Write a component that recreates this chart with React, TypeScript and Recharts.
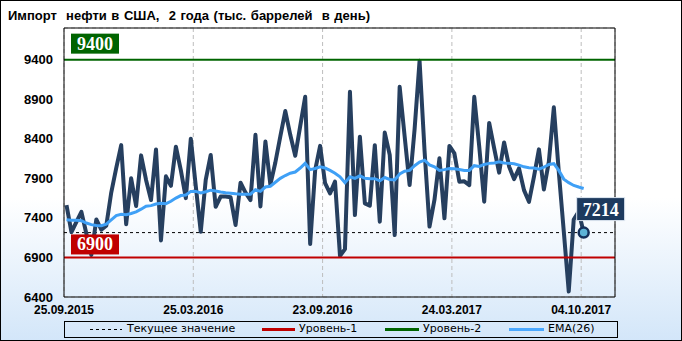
import React from 'react';
import { LineChart, Line, XAxis, YAxis, CartesianGrid, ReferenceLine, ReferenceDot } from 'recharts';

// weekly imports, thousand barrels per day
const importValues = [
  7560, 7220, 7350, 7476, 7200, 6930, 7380, 7250, 7300, 7720,
  8030, 8320, 7320, 7900, 7550, 8190, 7880, 7625, 8265, 7115,
  7925, 7805, 8300, 8000, 7650, 8400, 7800, 7225, 7880, 8195,
  7540, 7670, 7670, 7660, 7310, 7845, 7720, 7625, 8450, 7545,
  8365, 7820, 8100, 8430, 8750, 8450, 8185, 8560, 8930, 7070,
  8000, 8310, 7838, 7710, 7858, 6920, 7005, 8995, 7435, 8427,
  7584, 7555, 8318, 7352, 8478, 8196, 7183, 9056, 8430, 7815,
  8520, 9385, 8250, 7290, 7630, 8153, 7394, 8310, 8215, 7858,
  7862, 7815, 8930, 8300, 7605, 8600, 8280, 7972, 8354, 8050,
  7890, 8025, 7751, 7603, 7919, 8266, 7760, 8110, 8797, 7980,
  7230, 6470, 7380, 7480, 7214,
];

const emaValues = [
  7375, 7370, 7370, 7365, 7335, 7315, 7305, 7300, 7320, 7375,
  7430, 7445, 7440, 7455, 7476, 7510, 7548, 7555, 7575, 7585,
  7580, 7610, 7650, 7682, 7690, 7735, 7735, 7715, 7730, 7750,
  7740, 7728, 7718, 7712, 7705, 7700, 7698, 7700, 7755, 7735,
  7790, 7800, 7850, 7900, 7935, 7965, 7980, 8030, 8090, 8010,
  8025, 8046, 8030, 8000, 7965, 7920, 7845, 7920, 7900, 7932,
  7900, 7895, 7895, 7868, 7910, 7885, 7880, 7955, 7990, 8000,
  8060, 8105, 8130, 8070, 8045, 8000, 8010, 8025, 8020, 8012,
  8000, 8000, 8060, 8050, 8075, 8089, 8095, 8108, 8095, 8089,
  8085, 8067, 8045, 8035, 8030, 8015, 8040, 8075, 8085, 8000,
  7890, 7845, 7810, 7790, 7772,
];

const dateTicks = [-0.5, 25.5, 51.5, 77.5, 103.5];
const dateLabels = ['25.09.2015', '25.03.2016', '23.09.2016', '24.03.2017', '04.10.2017'];
const valueTicks = [6400, 6900, 7400, 7900, 8400, 8900, 9400];

const level1 = 6900;
const level2 = 9400;
const currentValue = 7214;

const data = importValues.map((v, i) => ({ i, value: v, ema: emaValues[i] }));
const lastIndex = importValues.length - 1;

const tickFont = { fontFamily: 'Liberation Sans, Arial, sans-serif', fontWeight: 'bold', fontSize: 13, fill: '#000' };

const levelLabel = (text: string, color: string, dy: number) => (props: any) => {
  const { x, y } = props.viewBox;
  return (
    <g>
      <rect x={x + 7} y={y + dy} width={48} height={20} fill={color} />
      <text x={x + 31} y={y + dy + 16} textAnchor="middle" fill="#fff"
        style={{ fontFamily: 'Liberation Serif, serif', fontWeight: 'bold', fontSize: 18 }}>{text}</text>
    </g>
  );
};

const LastPoint = (props: any) => {
  const { cx, cy } = props;
  return (
    <g>
      <rect x={cx - 7} y={cy - 35} width={48} height={23} fill="#1d3a5e" stroke="#dfe8f2" strokeWidth={1} />
      <text x={cx + 17} y={cy - 17} textAnchor="middle" fill="#fff"
        style={{ fontFamily: 'Liberation Serif, serif', fontWeight: 'bold', fontSize: 18 }}>{currentValue}</text>
      <circle cx={cx} cy={cy} r={5} fill="#5db3d6" stroke="#14305a" strokeWidth={2.5} />
    </g>
  );
};

const legendText = { position: 'absolute' as const, top: 322, fontFamily: 'DejaVu Sans, sans-serif', fontSize: 11, color: '#000' };

const App: React.FC = () => {
  return (
    <div style={{ position: 'absolute', left: 0, top: 0, width: 682, height: 341,
      background: 'linear-gradient(to bottom, #ffffff 0%, #ffffff 58%, #d3e6f9 100%)', overflow: 'hidden' }}>
      <div style={{ position: 'absolute', left: 8, top: 8, fontFamily: 'Liberation Sans, Arial, sans-serif',
        fontWeight: 'bold', fontSize: 13, wordSpacing: 1, whiteSpace: 'pre' }}>
        Импорт  нефти в США,  2 года (тыс. баррелей  в день)
      </div>

      <div style={{ position: 'absolute', left: 0, top: 0 }}>
        <LineChart width={682} height={341} data={data} margin={{ top: 28, right: 0, bottom: 14, left: 0 }}>
          <CartesianGrid stroke="#bdbdbd" strokeDasharray="4 3" />
          <XAxis dataKey="i" type="number" domain={[-0.5, 110.3]} ticks={dateTicks} allowDataOverflow
            tickFormatter={(v: number) => dateLabels[dateTicks.indexOf(v)] ?? ''}
            height={30} tickLine={false} tickMargin={2} axisLine={{ stroke: '#000' }}
            tick={{ ...tickFont, fontSize: 12 }} interval={0} />
          <YAxis yAxisId="left" domain={[6400, 9800]} ticks={valueTicks} width={64} tickLine={false}
            tickMargin={5} axisLine={{ stroke: '#000' }} tick={tickFont} interval={0} />
          <YAxis yAxisId="right" orientation="right" domain={[6400, 9800]} ticks={valueTicks} width={67}
            tickLine={false} tickMargin={7} axisLine={{ stroke: '#000' }} tick={tickFont} interval={0} />
          <ReferenceLine yAxisId="left" y={9800} stroke="#000" strokeWidth={1} />
          <ReferenceLine yAxisId="left" y={currentValue} stroke="#000" strokeDasharray="3 3" strokeWidth={1} />
          <Line yAxisId="left" type="linear" dataKey="value" stroke="#263f5f" strokeWidth={4}
            dot={false} isAnimationActive={false} strokeLinejoin="round" />
          <Line yAxisId="left" type="linear" dataKey="ema" stroke="#3fa0f6" strokeWidth={3}
            dot={false} isAnimationActive={false} />
          <ReferenceLine yAxisId="left" y={level2} stroke="#006400" strokeWidth={2}
            label={levelLabel(String(level2), '#006400', -26)} />
          <ReferenceLine yAxisId="left" y={level1} stroke="#c00000" strokeWidth={2}
            label={levelLabel(String(level1), '#c00000', -23)} />
          <ReferenceDot yAxisId="left" x={lastIndex} y={importValues[lastIndex]} r={5} shape={LastPoint} />
        </LineChart>
      </div>

      <div style={{ position: 'absolute', left: 64, top: 321, width: 554, height: 17, border: '1px solid #000', boxSizing: 'border-box' }} />
      <svg style={{ position: 'absolute', left: 0, top: 0 }} width={682} height={341}>
        <line x1={90} x2={122} y1={329.5} y2={329.5} stroke="#000" strokeDasharray="3 3" />
        <line x1={262} x2={295} y1={329.5} y2={329.5} stroke="#c00000" strokeWidth={3} />
        <line x1={385} x2={419} y1={329.5} y2={329.5} stroke="#006400" strokeWidth={3} />
        <line x1={509} x2={544} y1={329.5} y2={329.5} stroke="#4aa8ff" strokeWidth={3} />
      </svg>
      <span style={{ ...legendText, left: 127 }}>Текущее значение</span>
      <span style={{ ...legendText, left: 299 }}>Уровень-1</span>
      <span style={{ ...legendText, left: 423 }}>Уровень-2</span>
      <span style={{ ...legendText, left: 548 }}>EMA(26)</span>

      <div style={{ position: 'absolute', left: 0, top: 0, width: 682, height: 341, border: '1px solid #000',
        boxSizing: 'border-box', pointerEvents: 'none' }} />
    </div>
  );
};

export default App;
